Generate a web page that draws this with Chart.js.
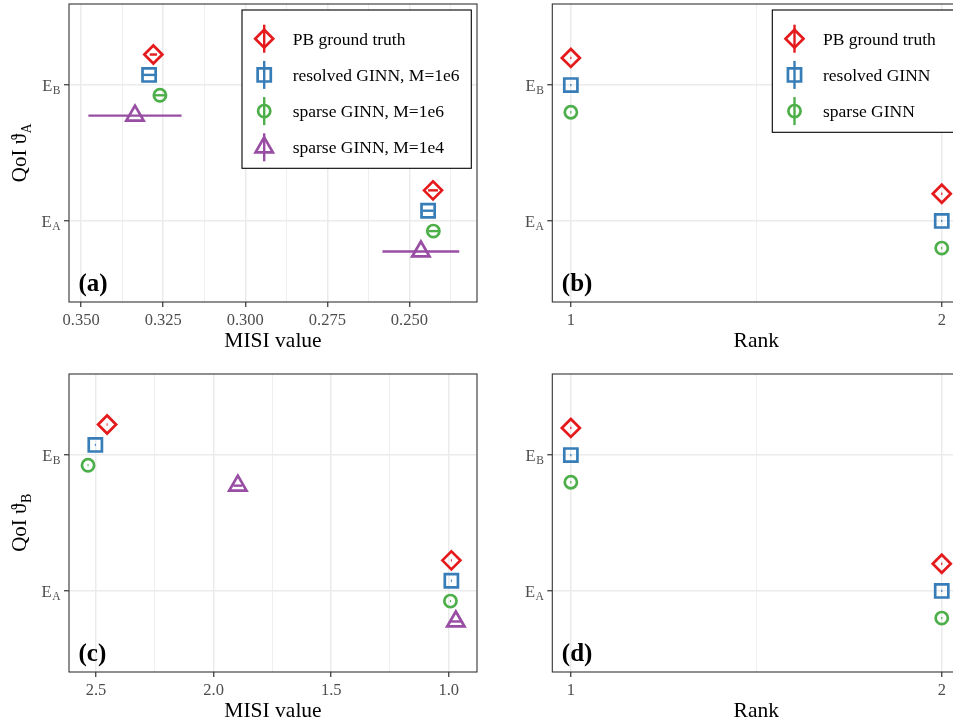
<!DOCTYPE html>
<html>
<head>
<meta charset="utf-8">
<script src="https://cdn.jsdelivr.net/npm/chart.js@4.4.1/dist/chart.umd.min.js"></script>
<style>
  html, body { margin: 0; padding: 0; background: #fff; overflow: hidden; width: 953px; height: 724px; }
  canvas { position: absolute; }
</style>
</head>
<body>
<canvas id="panelA" width="480" height="360" style="left:0;top:0"></canvas>
<canvas id="panelB" width="490" height="360" style="left:480px;top:0"></canvas>
<canvas id="panelC" width="480" height="364" style="left:0;top:360px"></canvas>
<canvas id="panelD" width="490" height="364" style="left:480px;top:360px"></canvas>
<script>
// ===================================
// DATA
// ===================================

const misiSeries = ['PB ground truth', 'resolved GINN, M=1e6', 'sparse GINN, M=1e6', 'sparse GINN, M=1e4'];
const rankSeries = ['PB ground truth', 'resolved GINN', 'sparse GINN'];

// y axis: E_A at 0, E_B at 1
const yTickVals = [0, 1];
const yTickSubs = ['A', 'B'];

// x ticks
const misiTicksA = [0.250, 0.275, 0.300, 0.325, 0.350];
const misiTickLabelsA = ['0.250', '0.275', '0.300', '0.325', '0.350'];
const misiMinorA = [0.2375, 0.2625, 0.2875, 0.3125, 0.3375];
const misiTicksC = [1.0, 1.5, 2.0, 2.5];
const misiTickLabelsC = ['1.0', '1.5', '2.0', '2.5'];
const misiMinorC = [1.25, 1.75, 2.25];
const rankTicks = [1, 2];
const rankTickLabels = ['1', '2'];
const rankMinor = [1.5];

// (a) MISI value vs QoI for E_A
const aPbX = [0.3280, 0.2428];
const aPbY = [1.225, 0.225];
const aPbErr = [0.0011, 0.0015];
const aResX = [0.3293, 0.2443];
const aResY = [1.075, 0.075];
const aResErr = [0.0018, 0.0017];
const aSp6X = [0.3260, 0.2427];
const aSp6Y = [0.925, -0.075];
const aSp6Err = [0.0017, 0.0015];
const aSp4X = [0.3336, 0.2465];
const aSp4Y = [0.775, -0.225];
const aSp4Err = [0.0142, 0.0117];

// (b) rank vs QoI for E_A
const bPbX = [1, 2];
const bPbY = [1.2, 0.2];
const bResX = [1, 2];
const bResY = [1.0, 0.0];
const bSpX = [1, 2];
const bSpY = [0.8, -0.2];
const bErr = [0.0015, 0.0015];

// (c) MISI value vs QoI for E_B
const cPbX = [2.453, 0.989];
const cPbY = [1.225, 0.225];
const cPbErr = [0.002, 0.002];
const cResX = [2.503, 0.989];
const cResY = [1.075, 0.075];
const cResErr = [0.002, 0.002];
const cSp6X = [2.534, 0.993];
const cSp6Y = [0.925, -0.075];
const cSp6Err = [0.002, 0.002];
const cSp4X = [1.897, 0.970];
const cSp4Y = [0.775, -0.225];
const cSp4Err = [0.019, 0.026];

// (d) rank vs QoI for E_B
const dPbX = [1, 2];
const dPbY = [1.2, 0.2];
const dResX = [1, 2];
const dResY = [1.0, 0.0];
const dSpX = [1, 2];
const dSpY = [0.8, -0.2];
const dErr = [0.0015, 0.0015];

// ===================================
// STYLE
// ===================================

const SERIF = "'Liberation Serif', 'DejaVu Serif', serif";
const COLORS = ['#E41A1C', '#377EB8', '#4DAF4A', '#984EA3'];
const SHAPES = ['rectRot', 'rect', 'circle', 'triangle'];
const RADII = [9, 9.3, 6.1, 10];
const STROKE = 2.7;

/**
 * Marker shape used inside the hand-drawn legend
 */
function drawMarker(ctx, shape, x, y, r) {
    ctx.beginPath();
    if (shape === 'rectRot') {
        ctx.moveTo(x, y - r);
        ctx.lineTo(x + r, y);
        ctx.lineTo(x, y + r);
        ctx.lineTo(x - r, y);
        ctx.closePath();
    } else if (shape === 'rect') {
        const s = r * Math.SQRT1_2;
        ctx.rect(x - s, y - s, 2 * s, 2 * s);
    } else if (shape === 'circle') {
        ctx.arc(x, y, r, 0, Math.PI * 2);
    } else {
        ctx.moveTo(x, y - r);
        ctx.lineTo(x + r * 0.866, y + r / 2);
        ctx.lineTo(x - r * 0.866, y + r / 2);
        ctx.closePath();
    }
    ctx.stroke();
}

/**
 * Text with a subscript, anchored at (x, baseline)
 */
function subText(ctx, main, sub, x, y, size, subSize, align) {
    ctx.font = size + 'px ' + SERIF;
    const w1 = ctx.measureText(main).width;
    ctx.font = subSize + 'px ' + SERIF;
    const w2 = ctx.measureText(sub).width;
    let x0 = x;
    if (align === 'right') x0 = x - w1 - w2;
    if (align === 'center') x0 = x - (w1 + w2) / 2;
    ctx.textAlign = 'left';
    ctx.textBaseline = 'alphabetic';
    ctx.font = size + 'px ' + SERIF;
    ctx.fillText(main, x0, y);
    ctx.font = subSize + 'px ' + SERIF;
    ctx.fillText(sub, x0 + w1 + 0.5, y + size * 0.22);
}

const decorations = {
    id: 'decorations',
    afterDraw(chart, args, o) {
        const ctx = chart.ctx;
        const a = chart.chartArea;
        const ys = chart.scales.y;
        ctx.save();

        // panel border
        ctx.strokeStyle = '#333333';
        ctx.lineWidth = 1.1;
        ctx.strokeRect(a.left, a.top, a.right - a.left, a.bottom - a.top);

        // y tick labels
        ctx.fillStyle = '#4D4D4D';
        yTickVals.forEach((v, i) => {
            const py = ys.getPixelForValue(v);
            subText(ctx, 'E', yTickSubs[i], a.left - 9, py + 5.6, 16.5, 11.5, 'right');
        });

        // y title
        if (o.yTitleSub) {
            ctx.save();
            ctx.fillStyle = '#000';
            ctx.translate(26, (a.top + a.bottom) / 2);
            ctx.rotate(-Math.PI / 2);
            subText(ctx, 'QoI \u03D1', o.yTitleSub, 0, 0, 21, 14, 'center');
            ctx.restore();
        }

        // x title
        ctx.fillStyle = '#000';
        ctx.font = '21.5px ' + SERIF;
        ctx.textAlign = 'center';
        ctx.textBaseline = 'alphabetic';
        ctx.fillText(o.xTitle, (a.left + a.right) / 2, a.bottom + 44.7);

        // panel tag
        ctx.font = 'bold 25px ' + SERIF;
        ctx.textAlign = 'left';
        ctx.fillText(o.tag, a.left + 9.5, a.bottom - 11.5);

        // legend
        if (o.legend) {
            const L = o.legend;
            ctx.fillStyle = '#fff';
            ctx.fillRect(L.left, L.top, L.right - L.left, L.bottom - L.top);
            ctx.strokeStyle = '#000';
            ctx.lineWidth = 1.1;
            ctx.strokeRect(L.left, L.top, L.right - L.left, L.bottom - L.top);
            L.labels.forEach((label, i) => {
                const cy = L.top + 28.7 + i * 36.2;
                const mx = L.left + 22.2;
                ctx.strokeStyle = COLORS[i];
                ctx.lineWidth = 2.4;
                ctx.beginPath();
                ctx.moveTo(mx, cy - 14);
                ctx.lineTo(mx, cy + 14);
                ctx.stroke();
                ctx.lineWidth = STROKE;
                drawMarker(ctx, SHAPES[i], mx, cy, RADII[i]);
                ctx.fillStyle = '#000';
                ctx.font = '17.5px ' + SERIF;
                ctx.textAlign = 'left';
                ctx.fillText(label, L.left + 50.7, cy + 5.8);
            });
        }
        ctx.restore();
    }
};

// ===================================
// CHART BUILDERS
// ===================================

function buildDatasets(xs, ys, errs) {
    const sets = [];
    xs.forEach((xArr, s) => {
        xArr.forEach((x, i) => {
            sets.push({
                type: 'line',
                data: [{ x: x - errs[s][i], y: ys[s][i] }, { x: x + errs[s][i], y: ys[s][i] }],
                borderColor: COLORS[s],
                borderWidth: 2.4,
                pointRadius: 0,
                fill: false
            });
        });
        sets.push({
            type: 'scatter',
            data: xArr.map((x, i) => ({ x: x, y: ys[s][i] })),
            pointStyle: SHAPES[s],
            pointRadius: RADII[s],
            pointHoverRadius: RADII[s],
            pointBorderWidth: STROKE,
            pointBorderColor: COLORS[s],
            pointBackgroundColor: 'rgba(0,0,0,0)'
        });
    });
    return sets;
}

// keep the plot area exactly where the layout padding puts it
function noScalePadding(s) {
    s.paddingTop = 0;
    s.paddingBottom = 0;
    s.paddingLeft = 0;
    s.paddingRight = 0;
}

function xAxis(min, max, reverse, majors, labels, minors, height) {
    return {
        type: 'linear',
        min: min,
        max: max,
        reverse: reverse,
        afterBuildTicks: s => {
            s.ticks = majors.map(v => ({ value: v })).concat(minors.map(v => ({ value: v, minor: true })));
        },
        afterFit: s => { s.height = height; noScalePadding(s); },
        ticks: {
            autoSkip: false,
            maxRotation: 0,
            minRotation: 0,
            padding: 4,
            color: '#4D4D4D',
            font: { family: SERIF, size: 16.5 },
            callback: (v, i, t) => t[i].minor ? '' : labels[majors.indexOf(v)]
        },
        grid: {
            color: '#EBEBEB',
            lineWidth: c => (c.tick && c.tick.minor) ? 0.8 : 1.5,
            tickColor: c => (c.tick && c.tick.minor) ? 'rgba(0,0,0,0)' : '#333333',
            tickLength: 5,
            tickWidth: 1.2
        },
        border: { display: false }
    };
}

function yAxis(width) {
    return {
        type: 'linear',
        min: -0.597,
        max: 1.597,
        afterBuildTicks: s => { s.ticks = yTickVals.map(v => ({ value: v })); },
        afterFit: s => { s.width = width; noScalePadding(s); },
        ticks: { callback: () => '', padding: 0 },
        grid: {
            color: '#EBEBEB',
            lineWidth: 1.5,
            tickColor: '#333333',
            tickLength: 5,
            tickWidth: 1.2
        },
        border: { display: false }
    };
}

function makeChart(id, datasets, x, y, padding, deco) {
    new Chart(document.getElementById(id), {
        type: 'scatter',
        data: { datasets: datasets },
        options: {
            responsive: false,
            animation: false,
            devicePixelRatio: 1,
            layout: { padding: padding, autoPadding: false },
            plugins: {
                legend: { display: false },
                tooltip: { enabled: false },
                decorations: deco
            },
            scales: { x: x, y: y }
        },
        plugins: [decorations]
    });
}

makeChart('panelA',
    buildDatasets([aPbX, aResX, aSp6X, aSp4X], [aPbY, aResY, aSp6Y, aSp4Y], [aPbErr, aResErr, aSp6Err, aSp4Err]),
    xAxis(0.2294, 0.3537, true, misiTicksA, misiTickLabelsA, misiMinorA, 58),
    yAxis(69),
    { top: 4, right: 3, left: 0, bottom: 0 },
    { tag: '(a)', xTitle: 'MISI value', yTitleSub: 'A',
      legend: { left: 242, top: 10, right: 471.3, bottom: 168.3, labels: misiSeries } });

makeChart('panelB',
    buildDatasets([bPbX, bResX, bSpX], [bPbY, bResY, bSpY], [bErr, bErr, bErr]),
    xAxis(0.95, 2.05, false, rankTicks, rankTickLabels, rankMinor, 58),
    yAxis(72.3),
    { top: 4, right: 9.7, left: 0, bottom: 0 },
    { tag: '(b)', xTitle: 'Rank', yTitleSub: null,
      legend: { left: 292.3, top: 10, right: 474.6, bottom: 132.3, labels: rankSeries } });

makeChart('panelC',
    buildDatasets([cPbX, cResX, cSp6X, cSp4X], [cPbY, cResY, cSp6Y, cSp4Y], [cPbErr, cResErr, cSp6Err, cSp4Err]),
    xAxis(0.88, 2.615, true, misiTicksC, misiTickLabelsC, misiMinorC, 52),
    yAxis(69),
    { top: 14, right: 3, left: 0, bottom: 0 },
    { tag: '(c)', xTitle: 'MISI value', yTitleSub: 'B', legend: null });

makeChart('panelD',
    buildDatasets([dPbX, dResX, dSpX], [dPbY, dResY, dSpY], [dErr, dErr, dErr]),
    xAxis(0.95, 2.05, false, rankTicks, rankTickLabels, rankMinor, 52),
    yAxis(72.3),
    { top: 14, right: 9.7, left: 0, bottom: 0 },
    { tag: '(d)', xTitle: 'Rank', yTitleSub: null, legend: null });
</script>
</body>
</html>
